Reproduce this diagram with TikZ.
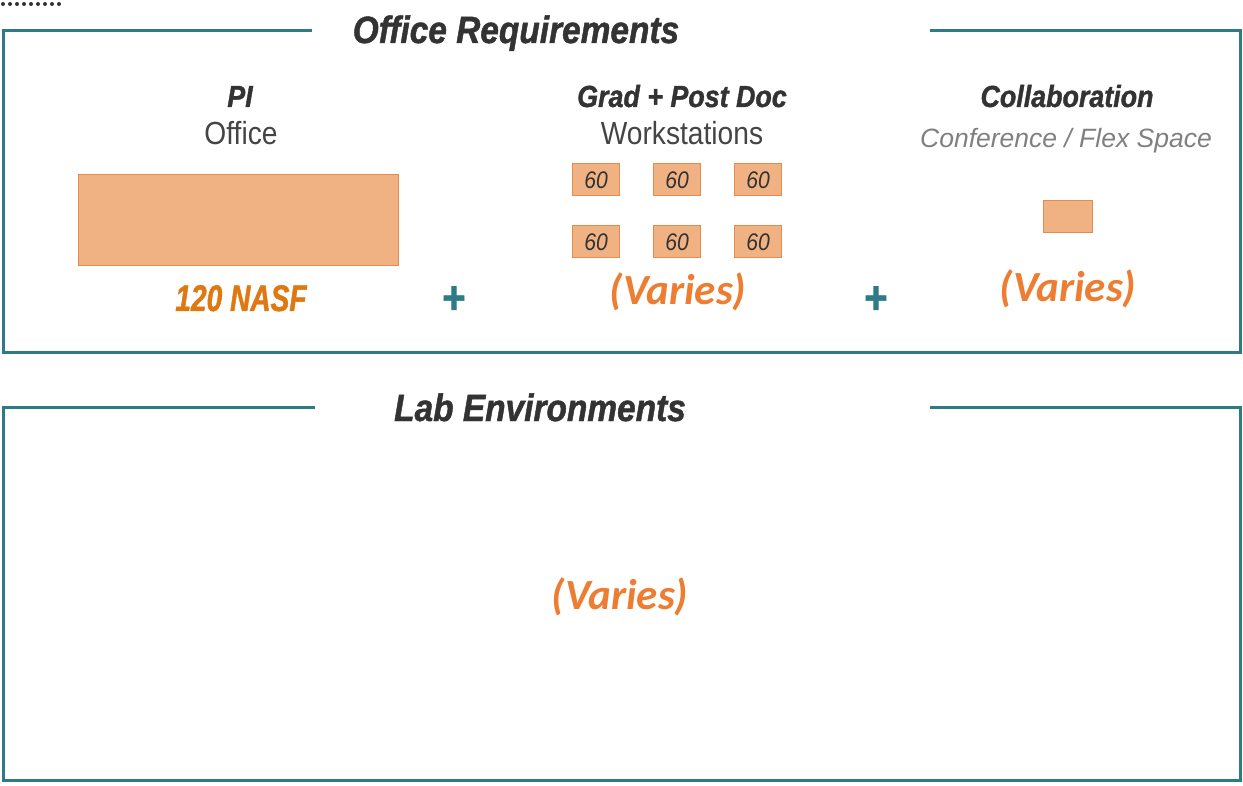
\documentclass[tikz,border=0pt]{standalone}
\usepackage{fontspec}
\setmainfont{Liberation Sans}
\newfontfamily\titlefont[FakeStretch=0.88, FakeBold=1.2]{Liberation Sans}
\newfontfamily\nasffont[FakeStretch=0.76, FakeBold=1.2]{Liberation Sans}
\newfontfamily\subfont[FakeStretch=0.88]{Liberation Sans}
\newfontfamily\notefont{Carlito}
\definecolor{frameteal}{HTML}{2E7B85}
\definecolor{roomfill}{HTML}{F0B283}
\definecolor{roomedge}{HTML}{E58B4E}
\definecolor{areaorange}{HTML}{ED7D31}
\definecolor{nasforange}{HTML}{E07812}
\definecolor{headgray}{HTML}{333333}
\definecolor{subgray}{HTML}{444444}
\definecolor{lightgray}{HTML}{808080}

\begin{document}
\begin{tikzpicture}[x=1pt, y=-1pt,
    frame/.style={draw=frameteal, line width=3pt},
    heading/.style={font=\titlefont\bfseries\itshape\fontsize{38}{40}\selectfont, text=headgray, inner sep=0pt, anchor=base},
    colhead/.style={font=\titlefont\bfseries\itshape\fontsize{30.5}{32}\selectfont, text=headgray, inner sep=0pt, anchor=base},
    colsub/.style={font=\subfont\fontsize{32}{34}\selectfont, text=subgray, inner sep=0pt, anchor=base},
    room/.style={draw=roomedge, fill=roomfill, line width=1pt, inner sep=0pt},
    seat/.style={room, minimum width=47, minimum height=32, font=\subfont\itshape\fontsize{24}{26}\selectfont, text=headgray},
    varies/.style={font=\notefont\bfseries\itshape\fontsize{43}{45}\selectfont, text=areaorange, inner sep=0pt, anchor=base},
    plussign/.style={font=\titlefont\bfseries\fontsize{46}{46}\selectfont, text=frameteal, inner sep=0pt}]
    \useasboundingbox (0,0) rectangle (1243,786);

    % dotted leader in the corner
    \draw[headgray, line width=4pt, dash pattern=on 0pt off 7pt, line cap=round] (3,4) -- (62,4);

    % office frame, open at the top for its title
    \coordinate (OL) at (312,31);
    \coordinate (OR) at (930,31);
    \draw[frame] (OL) -- (3,31) -- (3,353) -- (1240,353) -- (1240,31) -- (OR);
    \node[heading] (officetitle) at (516,43) {Office Requirements};

    % PI office
    \node[colhead] (pi) at (240,107) {PI};
    \node[colsub] (pioffice) at (241,145) {Office};
    \node[room, minimum width=320, minimum height=91] (piroom) at (238,220.5) {};
    \node[font=\nasffont\bfseries\itshape\fontsize{37}{39}\selectfont, text=nasforange, inner sep=0pt, anchor=base] (nasf) at (241,311) {120 NASF};
    \node[plussign] (plusA) at (454,300) {+};

    % grad and post doc workstations
    \node[colhead] (grad) at (682,107) {Grad + Post Doc};
    \node[colsub] (workst) at (682,145) {Workstations};
    \foreach \x [count=\i] in {596,677,758} {
        \node[seat] (seatA\i) at (\x,180) {60};
        \node[seat] (seatB\i) at (\x,242) {60};
    }
    \node[varies] (gradvaries) at (678,305) {(Varies)};
    \node[plussign] (plusB) at (876,300) {+};

    % collaboration space
    \node[colhead] (collab) at (1067,107) {Collaboration};
    \node[font=\fontsize{26.5}{28}\selectfont\itshape, text=lightgray, inner sep=0pt, anchor=base] (confflex) at (1066,148) {Conference / Flex Space};
    \node[room, minimum width=49, minimum height=32] (confroom) at (1067.5,217) {};
    \node[varies] (collabvaries) at (1068,302) {(Varies)};

    % lab frame
    \coordinate (LL) at (315,408);
    \coordinate (LR) at (930,408);
    \draw[frame] (LL) -- (3,408) -- (3,780) -- (1240,780) -- (1240,408) -- (LR);
    \node[heading] (labtitle) at (540,421) {Lab Environments};
    \node[varies] (labvaries) at (620,609) {(Varies)};
\end{tikzpicture}
\end{document}
